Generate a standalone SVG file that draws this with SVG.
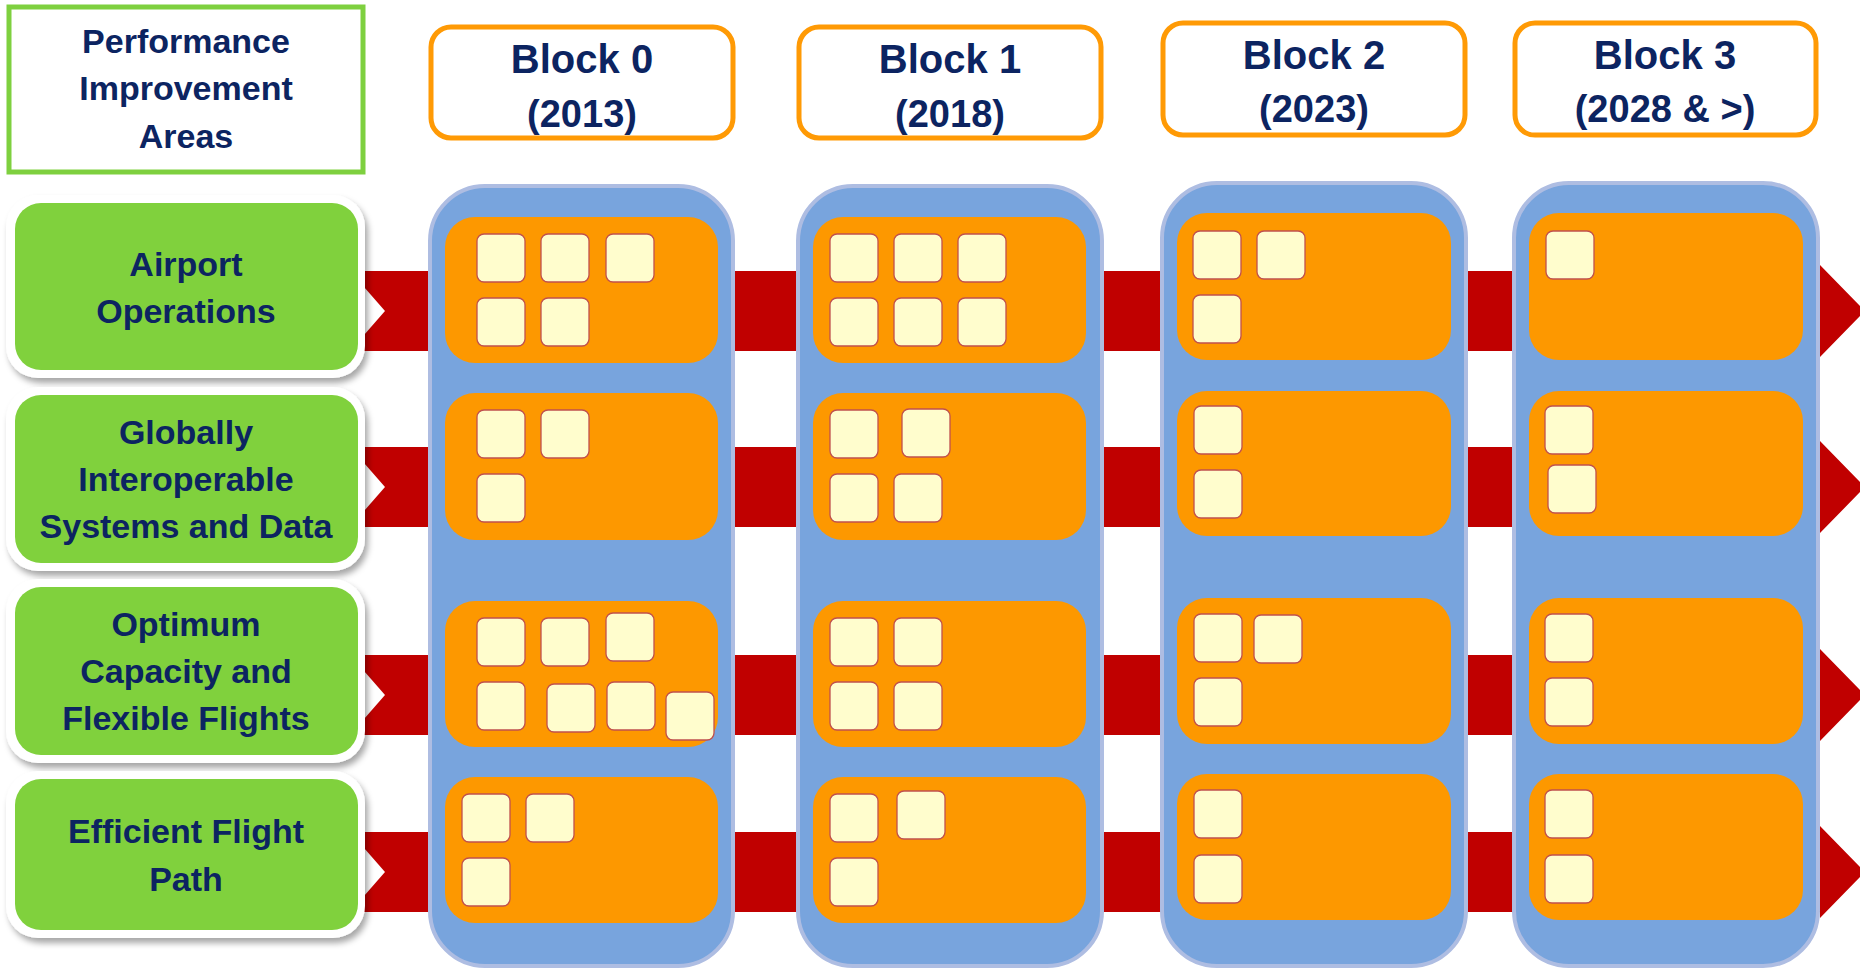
<svg xmlns="http://www.w3.org/2000/svg" width="1860" height="970" viewBox="0 0 1860 970">
  <defs>
    <filter id="sh" x="-10%" y="-10%" width="125%" height="130%">
      <feDropShadow dx="3" dy="5" stdDeviation="3" flood-color="#000" flood-opacity="0.35"/>
    </filter>
    <style>
      .t { font-family: "Liberation Sans", Arial, sans-serif; font-weight: bold; fill: #0C2461; text-anchor: middle; }
      .lbl { font-size: 34px; }
      .hb { font-size: 40px; }
      .hy { font-size: 38px; }
      .hdr { fill: #FFFFFF; stroke: #FF9A05; stroke-width: 5; }
      .col { fill: #78A4DD; stroke: #AEBDE2; stroke-width: 4; }
      .org { fill: #FD9800; }
      .c { fill: #FFFDCD; stroke: #C0504D; stroke-width: 1.3; }
      .band { fill: #C00000; }
      .wb { fill: #FFFFFF; filter: url(#sh); }
      .gb { fill: #80D13D; }
    </style>
  </defs>

  <rect width="1860" height="970" fill="#FFFFFF"/>

  <!-- connectors: red notched arrows -->
  <g id="connectors">
    <polygon class="band" points="350,271 1820,271 1820,265 1865,311 1820,357 1820,351 350,351 385,311"/>
    <polygon class="band" points="350,447 1820,447 1820,441 1865,487 1820,533 1820,527 350,527 385,487"/>
    <polygon class="band" points="350,655 1820,655 1820,649 1865,695 1820,741 1820,735 350,735 385,695"/>
    <polygon class="band" points="350,832 1820,832 1820,826 1865,872 1820,918 1820,912 350,912 385,872"/>
  </g>

  <!-- header -->
  <g id="perf-header">
    <rect x="9" y="7" width="354" height="165" fill="#FFFFFF" stroke="#7ED03F" stroke-width="5"/>
    <text class="t lbl" x="186" y="53">Performance</text>
    <text class="t lbl" x="186" y="100">Improvement</text>
    <text class="t lbl" x="186" y="148">Areas</text>
  </g>

  <g id="block0-header">
    <rect class="hdr" x="431" y="27" width="302" height="111" rx="20"/>
    <text class="t hb" x="582" y="73">Block 0</text>
    <text class="t hy" x="582" y="127">(2013)</text>
  </g>
  <g id="block1-header">
    <rect class="hdr" x="799" y="27" width="302" height="111" rx="20"/>
    <text class="t hb" x="950" y="73">Block 1</text>
    <text class="t hy" x="950" y="127">(2018)</text>
  </g>
  <g id="block2-header">
    <rect class="hdr" x="1163" y="23" width="302" height="112" rx="20"/>
    <text class="t hb" x="1314" y="69">Block 2</text>
    <text class="t hy" x="1314" y="122">(2023)</text>
  </g>
  <g id="block3-header">
    <rect class="hdr" x="1515" y="23" width="301" height="112" rx="20"/>
    <text class="t hb" x="1665" y="69">Block 3</text>
    <text class="t hy" x="1665" y="122">(2028 &amp; &gt;)</text>
  </g>

  <!-- row labels -->
  <g id="row-airport">
    <rect class="wb" x="6" y="195" width="359" height="183" rx="32"/>
    <rect class="gb" x="15" y="203" width="343" height="167" rx="26"/>
    <text class="t lbl" x="186" y="276">Airport</text>
    <text class="t lbl" x="186" y="323">Operations</text>
  </g>
  <g id="row-globally">
    <rect class="wb" x="6" y="387" width="359" height="184" rx="32"/>
    <rect class="gb" x="15" y="395" width="343" height="168" rx="26"/>
    <text class="t lbl" x="186" y="444">Globally</text>
    <text class="t lbl" x="186" y="491">Interoperable</text>
    <text class="t lbl" x="186" y="538">Systems and Data</text>
  </g>
  <g id="row-optimum">
    <rect class="wb" x="6" y="579" width="359" height="184" rx="32"/>
    <rect class="gb" x="15" y="587" width="343" height="168" rx="26"/>
    <text class="t lbl" x="186" y="636">Optimum</text>
    <text class="t lbl" x="186" y="683">Capacity and</text>
    <text class="t lbl" x="186" y="730">Flexible Flights</text>
  </g>
  <g id="row-efficient">
    <rect class="wb" x="6" y="771" width="359" height="167" rx="32"/>
    <rect class="gb" x="15" y="779" width="343" height="151" rx="26"/>
    <text class="t lbl" x="186" y="843">Efficient Flight</text>
    <text class="t lbl" x="186" y="891">Path</text>
  </g>

  <!-- Block 0 column -->
  <g id="block0">
    <rect class="col" x="430" y="186" width="303" height="780" rx="55"/>
    <rect class="org" x="445" y="217" width="273" height="146" rx="30"/>
    <rect class="org" x="445" y="393" width="273" height="147" rx="30"/>
    <rect class="org" x="445" y="601" width="273" height="146" rx="30"/>
    <rect class="org" x="445" y="777" width="273" height="146" rx="30"/>
    <rect class="c" x="477" y="234" width="48" height="48" rx="7"/>
    <rect class="c" x="541" y="234" width="48" height="48" rx="7"/>
    <rect class="c" x="606" y="234" width="48" height="48" rx="7"/>
    <rect class="c" x="477" y="298" width="48" height="48" rx="7"/>
    <rect class="c" x="541" y="298" width="48" height="48" rx="7"/>
    <rect class="c" x="477" y="410" width="48" height="48" rx="7"/>
    <rect class="c" x="541" y="410" width="48" height="48" rx="7"/>
    <rect class="c" x="477" y="474" width="48" height="48" rx="7"/>
    <rect class="c" x="477" y="618" width="48" height="48" rx="7"/>
    <rect class="c" x="541" y="618" width="48" height="48" rx="7"/>
    <rect class="c" x="606" y="613" width="48" height="48" rx="7"/>
    <rect class="c" x="477" y="682" width="48" height="48" rx="7"/>
    <rect class="c" x="547" y="684" width="48" height="48" rx="7"/>
    <rect class="c" x="607" y="682" width="48" height="48" rx="7"/>
    <rect class="c" x="666" y="692" width="48" height="48" rx="7"/>
    <rect class="c" x="462" y="794" width="48" height="48" rx="7"/>
    <rect class="c" x="526" y="794" width="48" height="48" rx="7"/>
    <rect class="c" x="462" y="858" width="48" height="48" rx="7"/>
  </g>

  <!-- Block 1 column -->
  <g id="block1">
    <rect class="col" x="798" y="186" width="304" height="780" rx="55"/>
    <rect class="org" x="813" y="217" width="273" height="146" rx="30"/>
    <rect class="org" x="813" y="393" width="273" height="147" rx="30"/>
    <rect class="org" x="813" y="601" width="273" height="146" rx="30"/>
    <rect class="org" x="813" y="777" width="273" height="146" rx="30"/>
    <rect class="c" x="830" y="234" width="48" height="48" rx="7"/>
    <rect class="c" x="894" y="234" width="48" height="48" rx="7"/>
    <rect class="c" x="958" y="234" width="48" height="48" rx="7"/>
    <rect class="c" x="830" y="298" width="48" height="48" rx="7"/>
    <rect class="c" x="894" y="298" width="48" height="48" rx="7"/>
    <rect class="c" x="958" y="298" width="48" height="48" rx="7"/>
    <rect class="c" x="830" y="410" width="48" height="48" rx="7"/>
    <rect class="c" x="902" y="409" width="48" height="48" rx="7"/>
    <rect class="c" x="830" y="474" width="48" height="48" rx="7"/>
    <rect class="c" x="894" y="474" width="48" height="48" rx="7"/>
    <rect class="c" x="830" y="618" width="48" height="48" rx="7"/>
    <rect class="c" x="894" y="618" width="48" height="48" rx="7"/>
    <rect class="c" x="830" y="682" width="48" height="48" rx="7"/>
    <rect class="c" x="894" y="682" width="48" height="48" rx="7"/>
    <rect class="c" x="830" y="794" width="48" height="48" rx="7"/>
    <rect class="c" x="897" y="791" width="48" height="48" rx="7"/>
    <rect class="c" x="830" y="858" width="48" height="48" rx="7"/>
  </g>

  <!-- Block 2 column -->
  <g id="block2">
    <rect class="col" x="1162" y="183" width="304" height="783" rx="55"/>
    <rect class="org" x="1177" y="213" width="274" height="147" rx="30"/>
    <rect class="org" x="1177" y="391" width="274" height="145" rx="30"/>
    <rect class="org" x="1177" y="598" width="274" height="146" rx="30"/>
    <rect class="org" x="1177" y="774" width="274" height="146" rx="30"/>
    <rect class="c" x="1193" y="231" width="48" height="48" rx="7"/>
    <rect class="c" x="1257" y="231" width="48" height="48" rx="7"/>
    <rect class="c" x="1193" y="295" width="48" height="48" rx="7"/>
    <rect class="c" x="1194" y="406" width="48" height="48" rx="7"/>
    <rect class="c" x="1194" y="470" width="48" height="48" rx="7"/>
    <rect class="c" x="1194" y="614" width="48" height="48" rx="7"/>
    <rect class="c" x="1254" y="615" width="48" height="48" rx="7"/>
    <rect class="c" x="1194" y="678" width="48" height="48" rx="7"/>
    <rect class="c" x="1194" y="790" width="48" height="48" rx="7"/>
    <rect class="c" x="1194" y="855" width="48" height="48" rx="7"/>
  </g>

  <!-- Block 3 column -->
  <g id="block3">
    <rect class="col" x="1514" y="183" width="304" height="783" rx="55"/>
    <rect class="org" x="1529" y="213" width="274" height="147" rx="30"/>
    <rect class="org" x="1529" y="391" width="274" height="145" rx="30"/>
    <rect class="org" x="1529" y="598" width="274" height="146" rx="30"/>
    <rect class="org" x="1529" y="774" width="274" height="146" rx="30"/>
    <rect class="c" x="1546" y="231" width="48" height="48" rx="7"/>
    <rect class="c" x="1545" y="406" width="48" height="48" rx="7"/>
    <rect class="c" x="1548" y="465" width="48" height="48" rx="7"/>
    <rect class="c" x="1545" y="614" width="48" height="48" rx="7"/>
    <rect class="c" x="1545" y="678" width="48" height="48" rx="7"/>
    <rect class="c" x="1545" y="790" width="48" height="48" rx="7"/>
    <rect class="c" x="1545" y="855" width="48" height="48" rx="7"/>
  </g>
</svg>
